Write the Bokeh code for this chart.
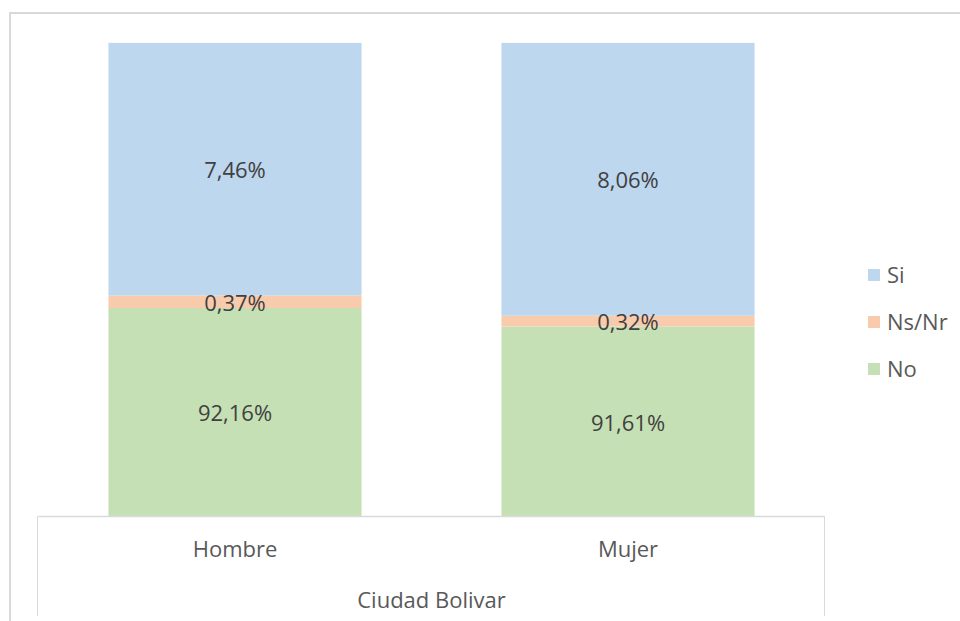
from bokeh.plotting import figure
from bokeh.models import (ColumnDataSource, Range1d, Legend, LegendItem,
                          InlineStyleSheet, FixedTicker, LinearAxis)
from bokeh.core.properties import value
from bokeh.embed import file_html
from bokeh.resources import INLINE

# ---- data -------------------------------------------------------------
categories = ["Hombre", "Mujer"]
group_label = "Ciudad Bolivar"
series = ["No", "Ns/Nr", "Si"]
no_vals = [92.16, 91.61]
nsnr_vals = [0.37, 0.32]
si_vals = [7.46, 8.06]
colors = ["#C5E0B4", "#F8CBAD", "#BDD7EE"]

# visible value axis window (hidden axis, as in the original chart)
Y_MIN, Y_MAX = 86.0, 100.0

FONT = "Open Sans"
FS = "22px"
W, H = 960, 621
CAT_W, FRAME_H = 786, 474          # category table width, plot height (px)
BORDER_L, BORDER_T = 38, 42

n = len(categories)
xs = [i + 0.5 for i in range(n)]   # category slots on the x scale
source = ColumnDataSource(dict(x=xs, cat=categories,
                               **{"No": no_vals, "Ns/Nr": nsnr_vals, "Si": si_vals}))

frame_w = W - BORDER_L
p = figure(width=W, height=H,
           x_range=Range1d(0, n * frame_w / CAT_W),
           y_range=Range1d(Y_MIN, Y_MAX),
           output_backend="svg", toolbar_location=None,
           min_border_left=BORDER_L, min_border_right=0,
           min_border_top=BORDER_T, min_border_bottom=H - BORDER_T - FRAME_H,
           y_axis_location=None, outline_line_color=None,
           background_fill_color="white", border_fill_color="white")
p.grid.visible = False

renderers = p.vbar_stack(series, x="x", width=0.644, source=source,
                         color=colors, line_color=None)

# data labels centred in the visible part of every segment
lx, ly, lt = [], [], []
bottoms = [0.0] * n
for vals in (no_vals, nsnr_vals, si_vals):
    for i, v in enumerate(vals):
        lo = max(bottoms[i], Y_MIN)
        hi = min(bottoms[i] + v, Y_MAX)
        lx.append(xs[i])
        ly.append((lo + hi) / 2)
        lt.append(f"{v:.2f}".replace(".", ",") + "%")
        bottoms[i] += v
p.text(x=lx, y=ly, text=lt, text_align="center", text_baseline="middle",
       text_font=value(FONT), text_font_size=FS, text_color="#404040")


def style_axis(a, standoff):
    a.axis_line_color = None
    a.major_tick_line_color = None
    a.minor_tick_line_color = None
    a.major_tick_out = 0
    a.major_tick_in = 0
    a.minor_tick_out = 0
    a.minor_tick_in = 0
    a.major_label_text_font = FONT
    a.major_label_text_font_size = FS
    a.major_label_text_color = "#595959"
    a.major_label_standoff = standoff


# category axis (inner level)
ax = p.xaxis[0]
style_axis(ax, 16)
ax.bounds = (0, n)
ax.ticker = FixedTicker(ticks=xs, minor_ticks=[])
ax.major_label_overrides = {x: c for x, c in zip(xs, categories)}
ax.axis_line_color = "#D9D9D9"
ax.axis_line_width = 1.3

# group level ("Ciudad Bolivar") centred under both categories
gx = n / 2
ax2 = LinearAxis(ticker=FixedTicker(ticks=[gx], minor_ticks=[]),
                 major_label_overrides={gx: group_label}, bounds=(0, n))
style_axis(ax2, 18)
p.add_layout(ax2, "below")

legend = Legend(items=[LegendItem(label=s, renderers=[r])
                       for s, r in reversed(list(zip(series, renderers)))],
                location=(828, 133), orientation="vertical",
                glyph_width=15, glyph_height=15, label_standoff=6,
                label_height=22, spacing=17, padding=0, margin=0,
                border_line_color=None, background_fill_alpha=0,
                label_text_font=FONT, label_text_font_size=FS,
                label_text_color="#595959")
p.add_layout(legend, "center")

# chart-area border and the category table edges (decoration only)
css = f"""
:host {{ position: relative; }}
:host::before {{ content: ""; position: absolute; left: {BORDER_L - 1}px;
  top: {BORDER_T + FRAME_H}px; width: {CAT_W + 2}px; height: 100px;
  box-sizing: border-box; border-left: 1.5px solid #D9D9D9;
  border-right: 1.5px solid #D9D9D9; pointer-events: none; z-index: 5; }}
:host::after {{ content: ""; position: absolute; left: 9px; top: 12px;
  right: 0; bottom: 0; border-left: 2px solid #D9D9D9;
  border-top: 2px solid #D9D9D9; pointer-events: none; z-index: 5; }}
"""
p.stylesheets = [InlineStyleSheet(css=css)]

open("out.html", "w").write(file_html(p, INLINE))
